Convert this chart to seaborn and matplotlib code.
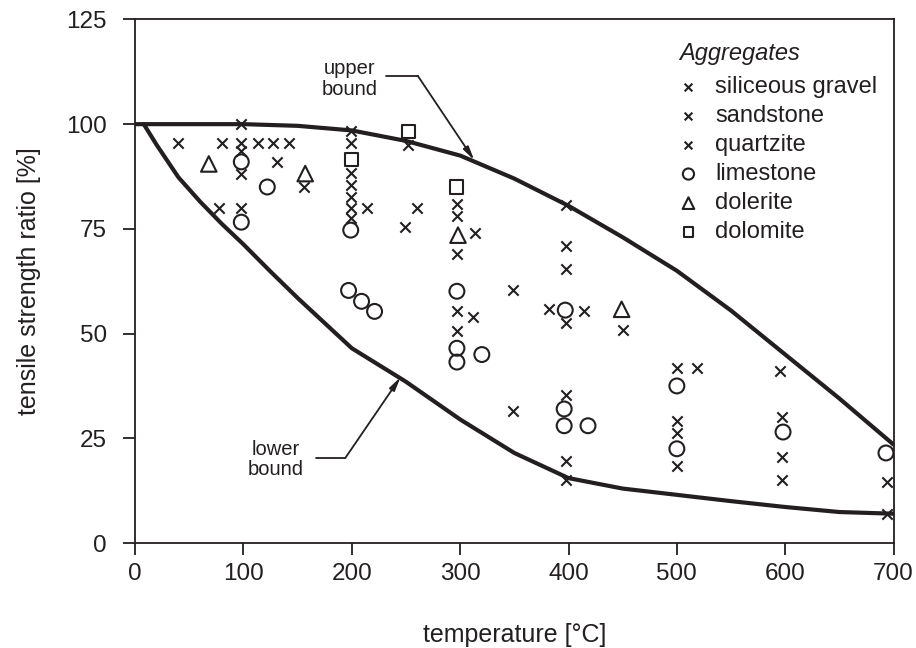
import matplotlib
matplotlib.use("Agg")
import matplotlib.pyplot as plt
import seaborn as sns
import pandas as pd

# Measured points: temperature [°C] and tensile strength ratio [%]
gravel_t = [40, 80, 98, 98, 98, 98, 113, 127, 142, 199, 199, 199, 199, 199, 199, 252, 297, 297, 398, 398, 398, 500, 519, 595, 694]
gravel_v = [95.5, 95.5, 100, 95.5, 93.5, 88, 95.5, 95.5, 95.5, 98.3, 95.5, 88.3, 85.4, 82.6, 80, 95, 81, 78, 80.7, 71, 65.5, 41.8, 41.8, 41, 14.6]

sandstone_t = [77.5, 98, 131, 156, 199, 214, 249, 260, 297, 297, 297, 312, 314, 349]
sandstone_v = [80, 80, 91, 85, 77.5, 80, 75.5, 80, 69, 55.5, 50.6, 54, 74, 60.5]

quartzite_t = [349, 382, 398, 398, 398, 398, 414, 450, 500, 500, 500, 597, 597, 597, 694]
quartzite_v = [31.5, 55.8, 52.5, 35.3, 19.6, 15, 55.5, 50.8, 29.1, 26.3, 18.4, 30, 20.5, 15, 6.9]

limestone_t = [98, 98, 122, 199, 197, 209, 221, 297, 297, 297, 320, 397, 396, 396, 418, 500, 500, 598, 693]
limestone_v = [91, 76.6, 85, 74.7, 60.3, 57.7, 55.3, 60.1, 46.5, 43.2, 45, 55.6, 32, 28, 28, 37.5, 22.5, 26.5, 21.5]

dolerite_t = [68, 157, 298, 449]
dolerite_v = [90.5, 88.2, 73.5, 55.8]

dolomite_t = [200, 252, 297]
dolomite_v = [91.5, 98.3, 85]

# Envelope curves
upper_t = [0, 50, 100, 150, 200, 250, 300, 350, 400, 450, 500, 550, 600, 650, 700]
upper_v = [100, 100, 100, 99.6, 98.5, 96, 92.5, 87, 80.5, 73, 65, 55.5, 45, 34.5, 23.5]
lower_t = [8, 20, 40, 60, 80, 100, 125, 150, 200, 250, 300, 350, 400, 450, 500, 550, 600, 650, 700]
lower_v = [100, 95, 87.3, 81.5, 76.2, 71.3, 64.8, 58.5, 46.5, 38.5, 29.5, 21.5, 15.5, 13, 11.5, 10, 8.6, 7.4, 7]

x_ticks = [0, 100, 200, 300, 400, 500, 600, 700]
y_ticks = [0, 25, 50, 75, 100, 125]

INK = "#231f20"
TICK_FS = 17.5
LABEL_FS = 18
LEG_FS = 17

sns.set_style("ticks")
plt.rcParams["font.family"] = ["Liberation Sans", "DejaVu Sans"]
plt.rcParams["text.color"] = INK
plt.rcParams["axes.labelcolor"] = INK
plt.rcParams["xtick.color"] = INK
plt.rcParams["ytick.color"] = INK

fig = plt.figure(figsize=(9.16, 6.48), dpi=100)
ax = fig.add_axes([0.1475, 0.162, 0.828, 0.808])

series = [
    ("siliceous gravel", gravel_t, gravel_v, "x"),
    ("sandstone", sandstone_t, sandstone_v, "x"),
    ("quartzite", quartzite_t, quartzite_v, "x"),
    ("limestone", limestone_t, limestone_v, "o"),
    ("dolerite", dolerite_t, dolerite_v, "^"),
    ("dolomite", dolomite_t, dolomite_v, "s"),
]
sizes = {"x": 55, "o": 115, "^": 125, "s": 88}

for name, ts, vs, mk in series:
    df = pd.DataFrame({"temperature": ts, "ratio": vs})
    if mk == "x":
        sns.scatterplot(data=df, x="temperature", y="ratio", marker="x", color=INK,
                        s=sizes[mk], linewidth=1.5, ax=ax, label=name, zorder=3)
    else:
        sns.scatterplot(data=df, x="temperature", y="ratio", marker=mk,
                        facecolors="none", edgecolor=INK, s=sizes[mk], linewidth=1.5,
                        ax=ax, label=name, zorder=3)

up = pd.DataFrame({"t": upper_t, "v": upper_v})
lo = pd.DataFrame({"t": lower_t, "v": lower_v})
sns.lineplot(data=up, x="t", y="v", color=INK, lw=3.0, ax=ax, legend=False, zorder=2)
sns.lineplot(data=lo, x="t", y="v", color=INK, lw=3.0, ax=ax, legend=False, zorder=2)

# Curve labels with leader lines
arrow = dict(arrowstyle="-|>,head_width=0.18,head_length=0.8", lw=1.3, color=INK,
             shrinkA=0, shrinkB=0)
ax.plot([232, 261], [111.5, 111.5], color=INK, lw=1.3)
ax.annotate("", xy=(313, 91.4), xytext=(261, 111.5), arrowprops=arrow)
ax.text(224, 110.8, "upper\nbound", ha="right", va="center", multialignment="center",
        fontsize=14.5, linespacing=1.1)

ax.plot([167, 194], [20.3, 20.3], color=INK, lw=1.3)
ax.annotate("", xy=(245, 39.6), xytext=(194, 20.3), arrowprops=arrow)
ax.text(156, 20.0, "lower\nbound", ha="right", va="center", multialignment="center",
        fontsize=14.5, linespacing=1.1)

ax.set_xlim(0, 700)
ax.set_ylim(0, 125)
ax.set_xticks(x_ticks)
ax.set_yticks(y_ticks)
ax.tick_params(axis="x", direction="out", length=8.5, width=1.3, pad=6, labelsize=TICK_FS)
ax.tick_params(axis="y", direction="out", length=8.5, width=1.3, pad=12, labelsize=TICK_FS)
for sp in ax.spines.values():
    sp.set_visible(True)
    sp.set_linewidth(1.3)
    sp.set_color(INK)

ax.set_xlabel("temperature [°C]", fontsize=LABEL_FS, labelpad=27)
ax.set_ylabel("tensile strength ratio [%]", fontsize=LABEL_FS, labelpad=18)

# Legend heading placed as its own text, left-aligned with the marker column
ax.text(0.717, 0.934, "Aggregates", transform=ax.transAxes, fontsize=LEG_FS,
        fontstyle="italic", ha="left", va="center")
leg = ax.legend(loc="upper left", bbox_to_anchor=(0.714, 0.892),
                frameon=False, fontsize=LEG_FS, handletextpad=0.62, labelspacing=0.3,
                markerscale=0.75, handlelength=1.0, borderaxespad=0.0, borderpad=0.0)

fig.savefig("out.png", dpi=100)
